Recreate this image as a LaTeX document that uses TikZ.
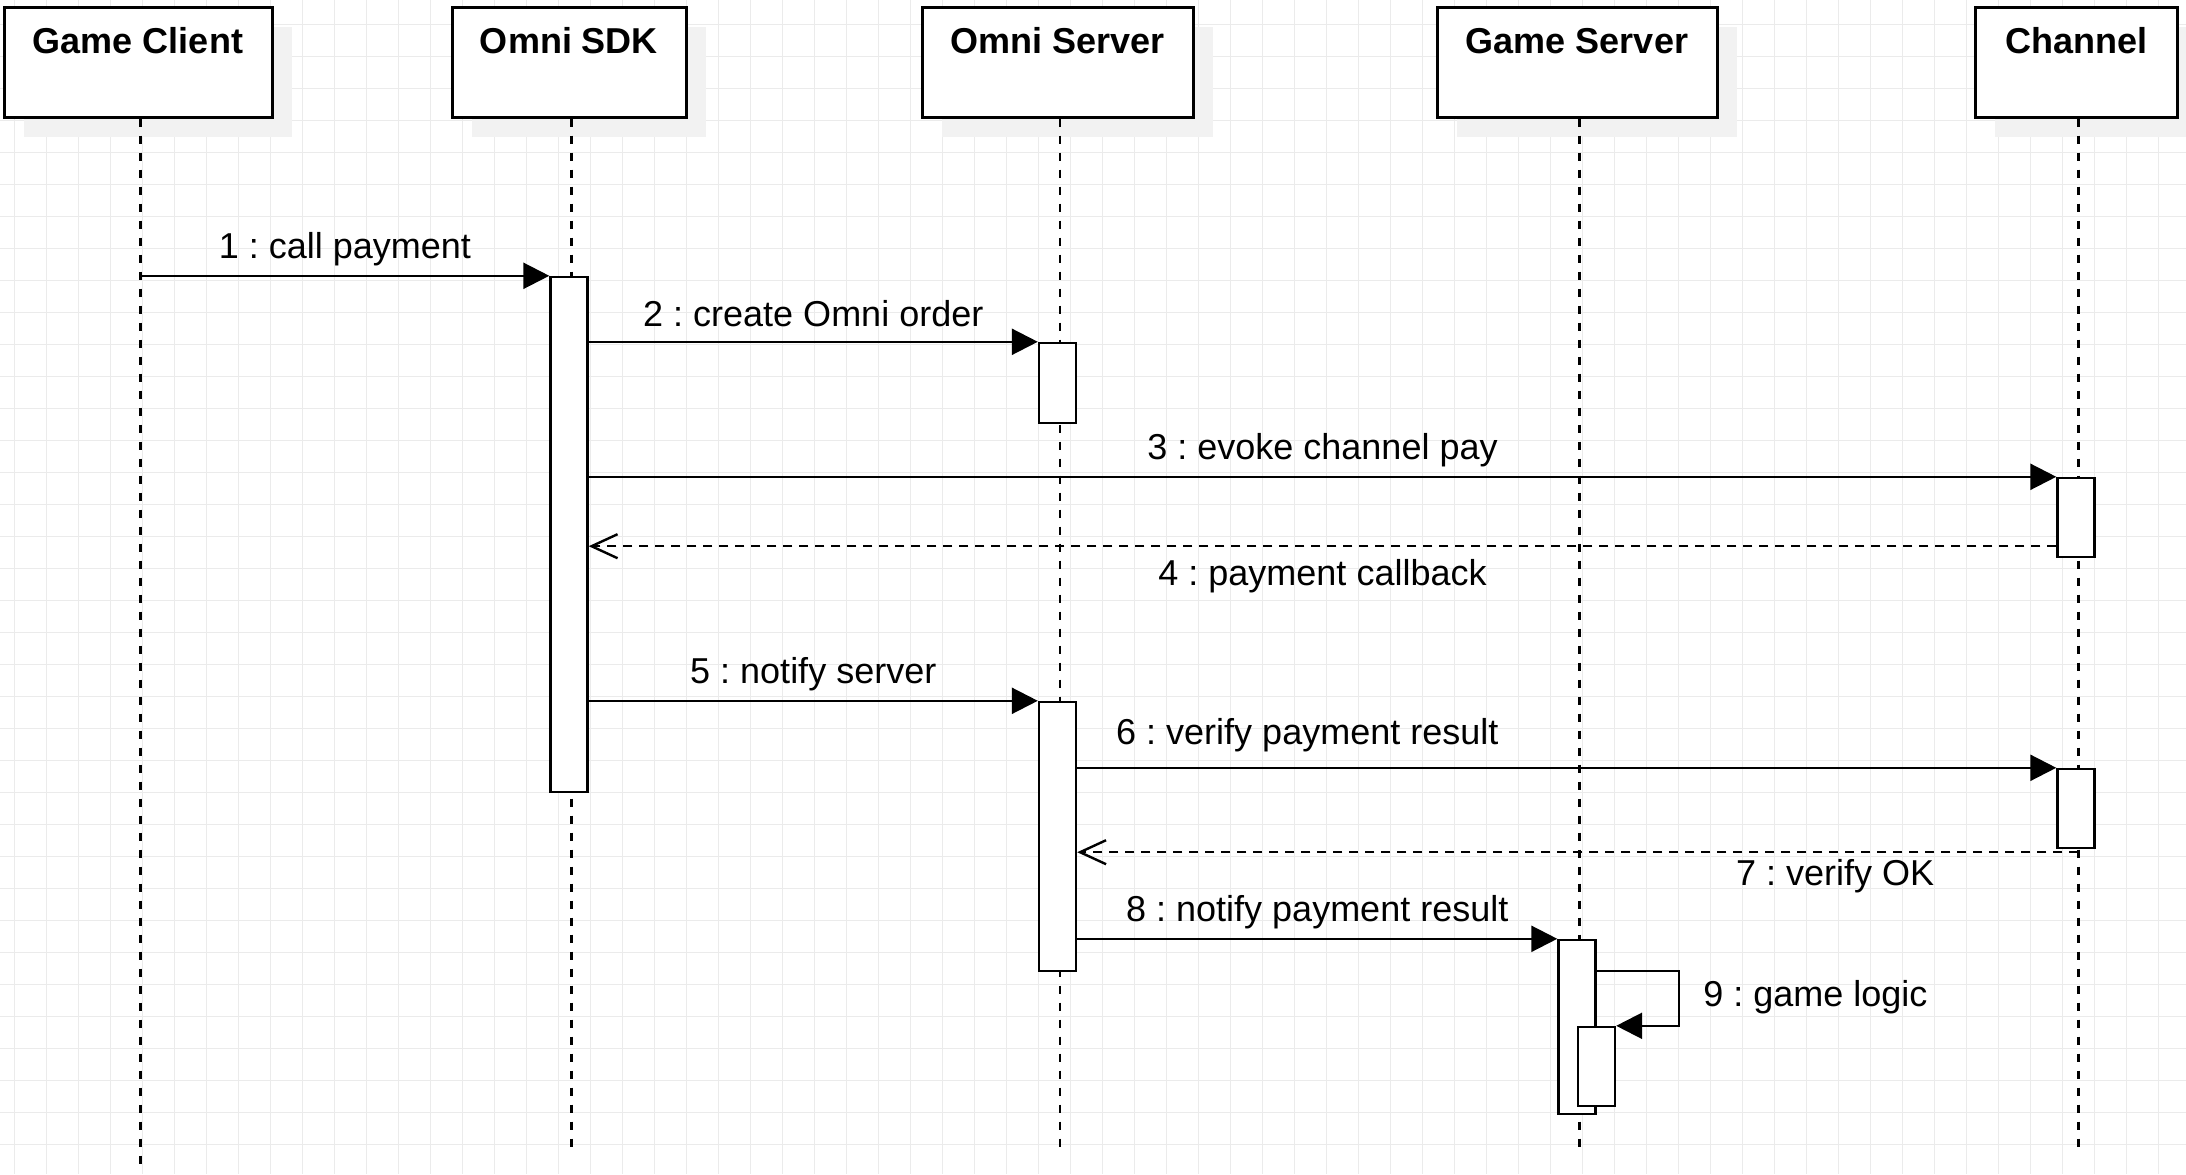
\documentclass[tikz,border=0pt]{standalone}
\usepackage{fontspec}
\setmainfont{Liberation Sans}
\usetikzlibrary{arrows.meta,shadows}
\frenchspacing
\newcommand{\lblfont}{\fontsize{18}{22}\selectfont}
\newcommand{\actbar}[4]{\node[act, minimum height={(#4-#3)*0.5pt}] (#1) at (#2,{(#3+#4)/2}) {};}

\begin{document}
\begin{tikzpicture}[x=0.5pt,y=-0.5pt,
    gridline/.style={black!8, line width=0.5pt},
    head/.style={draw, line width=1.5pt, fill=white, inner sep=0pt, minimum height=55pt,
      text height=23pt, text depth=32pt, font=\lblfont\bfseries,
      drop shadow={shadow xshift=10pt, shadow yshift=-10pt, fill=black!5, opacity=1}},
    act/.style={draw, line width=1.2pt, fill=white, minimum width=18.5pt, inner sep=0pt},
    life/.style={line width=1.2pt, dash pattern=on 4pt off 4.5pt},
    msg/.style={line width=1.2pt, -{Triangle[length=13pt,width=13pt]}},
    ret/.style={line width=1.2pt, dash pattern=on 4.5pt off 3.5pt, -{Straight Barb[length=13pt,width=12pt]}},
    lbl/.style={anchor=base, font=\lblfont, inner sep=0pt, yshift=8.5pt}]
    \fill[white] (0,0) rectangle (2186,1174);
    \useasboundingbox (0,0) rectangle (2186,1174);
    \foreach \x in {14,46,...,2186}
      \draw[gridline] (\x,0) -- (\x,1174);
    \foreach \y in {24,56,...,1174}
      \draw[gridline] (0,\y) -- (2186,\y);

    \foreach \n/\x/\w/\t in {gc/138/134/Game Client, sdk/569/117/Omni SDK, os/1057.5/135.5/Omni Server,
        gs/1577/140/Game Server, ch/2076/101/Channel}
      \node[head, minimum width=\w pt] (\n) at (\x,62) {\t};
    \foreach \n/\e in {gc/1168, sdk/1150, os/1150, gs/1152, ch/1150}
      \draw[life] ([xshift=1.2pt]\n.south) -- ++(0,\e-117);

    \actbar{sdkA}{569}{277}{792}
    \actbar{osA}{1057.5}{343}{423}
    \actbar{chA}{2076}{478}{557}
    \actbar{osB}{1057.5}{702}{971}
    \actbar{chB}{2076}{769}{848}
    \actbar{gsA}{1577}{940}{1114}
    \actbar{gsB}{1596.5}{1027}{1106}

    \draw[msg] ([xshift=1.2pt]gc.south |- sdkA.north) -- (sdkA.north west) node[lbl, midway] (m1) {1 : call payment};
    \draw[msg] (sdkA.east |- osA.north) -- (osA.north west) node[lbl, midway, yshift=-1pt] (m2) {2 : create Omni order};
    \draw[msg] (sdkA.east |- chA.north) -- (chA.north west) node[lbl, midway] (m3) {3 : evoke channel pay};
    \coordinate (r4) at ([yshift=6pt]chA.south west);
    \draw[ret] (r4) -- (r4 -| sdkA.east) node[lbl, midway, yshift=-28pt] (m4) {4 : payment callback};
    \draw[msg] (sdkA.east |- osB.north) -- (osB.north west) node[lbl, midway] (m5) {5 : notify server};
    \draw[msg] (osB.east |- chB.north) -- (chB.north west) node[lbl, pos=0.235, yshift=3pt] (m6) {6 : verify payment result};
    \coordinate (r7) at ([xshift=1.2pt,yshift=-1.5pt]chB.south);
    \draw[ret] (r7) -- (r7 -| osB.east) node[lbl, pos=0.243, yshift=-25pt] (m7) {7 : verify OK};
    \draw[msg] (osB.east |- gsA.north) -- (gsA.north west) node[lbl, midway] (m8) {8 : notify payment result};
    \coordinate (g9) at (1679,971);
    \draw[msg] (gsA.east |- g9) -- (g9) |- (gsB.north east);
    \node[anchor=base west, font=\lblfont, inner sep=0pt] (m9) at ([xshift=12pt,yshift=-17.5pt]g9) {9 : game logic};
\end{tikzpicture}
\end{document}
